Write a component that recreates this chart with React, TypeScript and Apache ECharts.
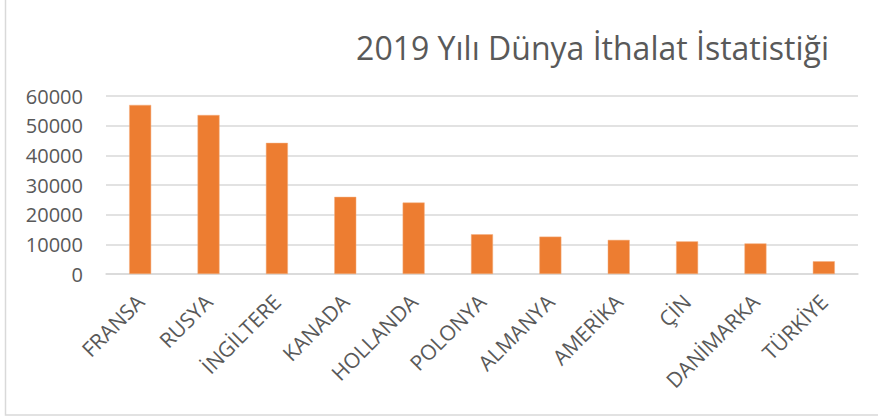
import React, { useEffect, useRef } from "react";
import * as echarts from "echarts";

const titleText = "2019 Yılı Dünya İthalat İstatistiği";
const categories = [
  "FRANSA",
  "RUSYA",
  "İNGİLTERE",
  "KANADA",
  "HOLLANDA",
  "POLONYA",
  "ALMANYA",
  "AMERİKA",
  "ÇİN",
  "DANİMARKA",
  "TÜRKİYE",
];
const values = [57000, 53600, 44200, 26000, 24100, 13400, 12600, 11500, 11000, 10300, 4300];
const yMin = 0;
const yMax = 60000;
const yInterval = 10000;

export default function App() {
  const ref = useRef<HTMLDivElement>(null);
  useEffect(() => {
    if (!ref.current) return;
    const chart = echarts.init(ref.current, undefined, { renderer: "svg" });
    chart.setOption({
      animation: false,
      backgroundColor: "#ffffff",
      textStyle: { fontFamily: "Open Sans" },
      title: {
        text: titleText,
        right: 44,
        top: 26,
        textStyle: {
          fontFamily: "Open Sans",
          fontSize: 32,
          fontWeight: "normal",
          color: "#595959",
        },
      },
      graphic: [
        {
          type: "rect",
          shape: { x: 5.5, y: -5, width: 890, height: 420 },
          style: { fill: "none", stroke: "#d9d9d9", lineWidth: 1.5 },
          silent: true,
        },
      ],
      grid: { left: 106, right: 20, top: 96, bottom: 145 },
      xAxis: {
        type: "category",
        data: categories,
        axisTick: { show: false },
        axisLine: { lineStyle: { color: "#d9d9d9", width: 1.5 } },
        axisLabel: {
          rotate: 45,
          interval: 0,
          margin: 24,
          color: "#595959",
          fontSize: 21,
          fontFamily: "Open Sans",
        },
      },
      yAxis: {
        type: "value",
        min: yMin,
        max: yMax,
        interval: yInterval,
        axisLine: { show: false },
        axisTick: { show: false },
        splitLine: { lineStyle: { color: "#d9d9d9", width: 1.5 } },
        axisLabel: {
          color: "#595959",
          fontSize: 20,
          fontFamily: "Open Sans",
          margin: 23,
          formatter: (v: number) => String(v),
        },
      },
      series: [
        {
          type: "bar",
          data: values,
          barWidth: 22,
          itemStyle: { color: "#ED7D31", borderColor: "#F4B183", borderWidth: 0.5 },
        },
      ],
    });
    return () => chart.dispose();
  }, []);
  return (
    <div
      ref={ref}
      style={{ position: "fixed", left: 0, top: 0, width: 878, height: 419 }}
    />
  );
}
